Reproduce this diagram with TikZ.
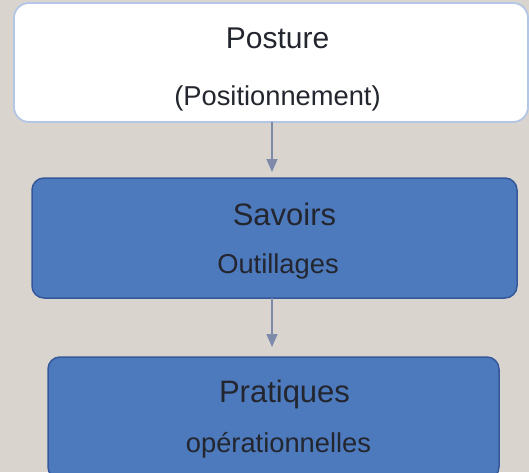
\documentclass[tikz,border=0pt]{standalone}
\usepackage{fontspec}
\setmainfont{Liberation Sans}
\usetikzlibrary{arrows.meta}
\definecolor{bgc}{HTML}{D9D5CE}
\definecolor{bluef}{HTML}{4D79BD}
\definecolor{blued}{HTML}{34589A}
\definecolor{lightb}{HTML}{B4C6E6}
\definecolor{arrowc}{HTML}{7D8AAA}
\definecolor{txt}{HTML}{23262E}
\tikzset{
  whitebox/.style={draw=lightb, line width=1.8pt, fill=white, rounded corners=15pt, inner sep=0pt},
  bluebox/.style={draw=blued, line width=1.5pt, fill=bluef, rounded corners=12pt, inner sep=0pt},
  ttl/.style={anchor=base, inner sep=0pt, text=txt, font=\fontsize{31}{31}\selectfont},
  sub/.style={anchor=base, inner sep=0pt, text=txt, font=\fontsize{27.3}{27}\selectfont},
  conn/.style={draw=arrowc, line width=1.4pt, -{Triangle[width=11pt,length=13pt]}}
}
\begin{document}
\begin{tikzpicture}[x=1pt,y=-1pt]
\fill[bgc] (0,0) rectangle (529,472);
\useasboundingbox (0,0) rectangle (529,472);
\clip (0,0) rectangle (529,472);
\node[whitebox, minimum width=514pt, minimum height=119pt] (b1) at (271,62.5) {};
\node[bluebox, minimum width=485pt, minimum height=120pt] (b2) at (274.5,238) {};
\node[bluebox, minimum width=451pt, minimum height=122pt] (b3) at (273.5,418) {};
\node[ttl, font=\fontsize{30}{30}\selectfont] (t1) at (277.5,48) {Posture};
\node[sub] (s1) at (277.5,105) {(Positionnement)};
\node[ttl] (t2) at (284.5,225) {Savoirs};
\node[sub] (s2) at (278,273) {Outillages};
\node[ttl] (t3) at (284.5,402) {Pratiques};
\node[sub] (s3) at (278.5,452) {opérationnelles};
\coordinate (a1s) at (272,122);
\coordinate (a1e) at (272,172);
\coordinate (a2s) at (272,298);
\coordinate (a2e) at (272,347);
\draw[conn] (a1s) -- (a1e);
\draw[conn] (a2s) -- (a2e);
\end{tikzpicture}
\end{document}
